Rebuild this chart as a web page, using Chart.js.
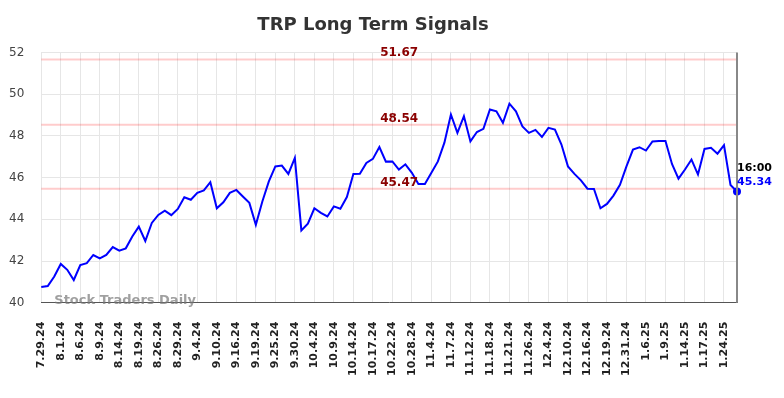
<!DOCTYPE html>
<html>
<head>
<meta charset="utf-8">
<script src="https://cdn.jsdelivr.net/npm/chart.js@4.4.1/dist/chart.umd.min.js"></script>
<style>
  html, body { margin: 0; padding: 0; background: #fff; }
  #wrap { width: 784px; height: 398px; }
</style>
</head>
<body>
<div id="wrap"><canvas id="lineChart"></canvas></div>
<script>
// x-axis labels, one every third trading day
const tickLabels = [
    '7.29.24', '8.1.24', '8.6.24', '8.9.24', '8.14.24', '8.19.24', '8.26.24', '8.29.24',
    '9.4.24', '9.10.24', '9.16.24', '9.19.24', '9.25.24', '9.30.24', '10.4.24', '10.9.24',
    '10.14.24', '10.17.24', '10.22.24', '10.28.24', '11.4.24', '11.7.24', '11.12.24', '11.18.24',
    '11.21.24', '11.26.24', '12.4.24', '12.10.24', '12.16.24', '12.19.24', '12.31.24', '1.6.25',
    '1.9.25', '1.14.25', '1.17.25', '1.24.25'
];

const prices = [
    40.75, 40.80, 41.26, 41.86, 41.58, 41.09, 41.81, 41.90, 42.29, 42.13,
    42.29, 42.67, 42.50, 42.61, 43.18, 43.65, 42.96, 43.83, 44.21, 44.42,
    44.20, 44.50, 45.06, 44.94, 45.27, 45.39, 45.78, 44.53, 44.82, 45.27,
    45.41, 45.10, 44.79, 43.74, 44.86, 45.82, 46.54, 46.58, 46.18, 46.95,
    43.47, 43.79, 44.53, 44.31, 44.14, 44.62, 44.51, 45.07, 46.18, 46.19,
    46.71, 46.90, 47.47, 46.77, 46.78, 46.39, 46.64, 46.23, 45.70, 45.70,
    46.23, 46.78, 47.68, 49.03, 48.15, 48.95, 47.74, 48.19, 48.34, 49.27,
    49.18, 48.63, 49.55, 49.18, 48.46, 48.15, 48.29, 47.95, 48.39, 48.31,
    47.59, 46.54, 46.18, 45.87, 45.47, 45.46, 44.53, 44.74, 45.14, 45.66,
    46.54, 47.35, 47.46, 47.30, 47.74, 47.76, 47.76, 46.66, 45.95, 46.39,
    46.87, 46.15, 47.38, 47.43, 47.15, 47.56, 45.65, 45.34
];

const signalLevels = [51.67, 48.54, 45.47];
const lastTime = '16:00';

const labels = prices.map((p, i) => (i % 3 === 0 ? tickLabels[i / 3] : ''));
const lastIndex = prices.length - 1;

Chart.defaults.font.family = "'DejaVu Sans', sans-serif";

const signalPlugin = {
    id: 'signals',
    beforeDatasetsDraw(chart) {
        const { ctx, chartArea, scales } = chart;
        ctx.save();
        ctx.strokeStyle = 'rgba(255, 0, 0, 0.2)';
        ctx.lineWidth = 2;
        signalLevels.forEach(level => {
            const y = scales.y.getPixelForValue(level);
            ctx.beginPath();
            ctx.moveTo(chartArea.left, y);
            ctx.lineTo(chartArea.right, y);
            ctx.stroke();
        });
        ctx.restore();
    },
    afterDatasetsDraw(chart) {
        const { ctx, chartArea, scales } = chart;
        ctx.save();
        ctx.font = "bold 12px 'DejaVu Sans'";
        ctx.fillStyle = '#8b0000';
        ctx.textAlign = 'center';
        ctx.textBaseline = 'alphabetic';
        const cx = (chartArea.left + chartArea.right) / 2 + 10;
        signalLevels.forEach(level => {
            const y = scales.y.getPixelForValue(level);
            ctx.fillText(level.toFixed(2), cx, y - 3);
        });

        // right border
        ctx.strokeStyle = '#888';
        ctx.lineWidth = 2;
        ctx.beginPath();
        ctx.moveTo(chartArea.right, chartArea.top);
        ctx.lineTo(chartArea.right, chartArea.bottom);
        ctx.stroke();

        // watermark
        ctx.font = "bold 13px 'DejaVu Sans'";
        ctx.fillStyle = 'rgba(120, 120, 120, 0.7)';
        ctx.textAlign = 'left';
        ctx.textBaseline = 'middle';
        ctx.fillText('Stock Traders Daily', chartArea.left + 13, chartArea.bottom - 2);

        // last price label
        const pt = chart.getDatasetMeta(0).data[lastIndex];
        ctx.font = "bold 11px 'DejaVu Sans'";
        ctx.textBaseline = 'alphabetic';
        ctx.fillStyle = '#000';
        ctx.fillText(lastTime, pt.x, pt.y - 20);
        ctx.fillStyle = '#0000ff';
        ctx.fillText(prices[lastIndex].toFixed(2), pt.x, pt.y - 6);
        ctx.restore();
    }
};

const ctx = document.getElementById('lineChart').getContext('2d');
new Chart(ctx, {
    type: 'line',
    data: {
        labels: labels,
        datasets: [{
            data: prices,
            borderColor: '#0000ff',
            backgroundColor: '#0000ff',
            borderWidth: 2,
            tension: 0,
            pointRadius: prices.map((p, i) => (i === lastIndex ? 4 : 0)),
            pointBackgroundColor: '#0000ff',
            pointBorderWidth: 0
        }]
    },
    options: {
        responsive: true,
        maintainAspectRatio: false,
        animation: false,
        layout: {
            padding: { top: 5, left: 9, right: 47, bottom: 22 }
        },
        plugins: {
            legend: { display: false },
            tooltip: { enabled: false },
            title: {
                display: true,
                text: 'TRP Long Term Signals',
                color: '#333',
                font: { size: 18, weight: 'bold' },
                padding: { top: 10, bottom: 16 }
            }
        },
        scales: {
            x: {
                grid: {
                    color: c => (c.index % 3 === 0 ? '#e6e6e6' : 'rgba(0,0,0,0)'),
                    drawTicks: true,
                    tickLength: 19,
                    tickColor: 'rgba(0,0,0,0)'
                },
                border: { color: '#555', width: 1 },
                ticks: {
                    autoSkip: false,
                    minRotation: 90,
                    maxRotation: 90,
                    padding: 0,
                    color: '#222',
                    font: { size: 11, weight: 'bold' }
                }
            },
            y: {
                min: 40,
                max: 52,
                grid: {
                    color: '#e6e6e6',
                    drawTicks: true,
                    tickLength: 17,
                    tickColor: 'rgba(0,0,0,0)'
                },
                border: { display: false },
                ticks: {
                    stepSize: 2,
                    padding: 0,
                    color: '#444',
                    font: { size: 12 }
                }
            }
        }
    },
    plugins: [signalPlugin]
});
</script>
</body>
</html>
